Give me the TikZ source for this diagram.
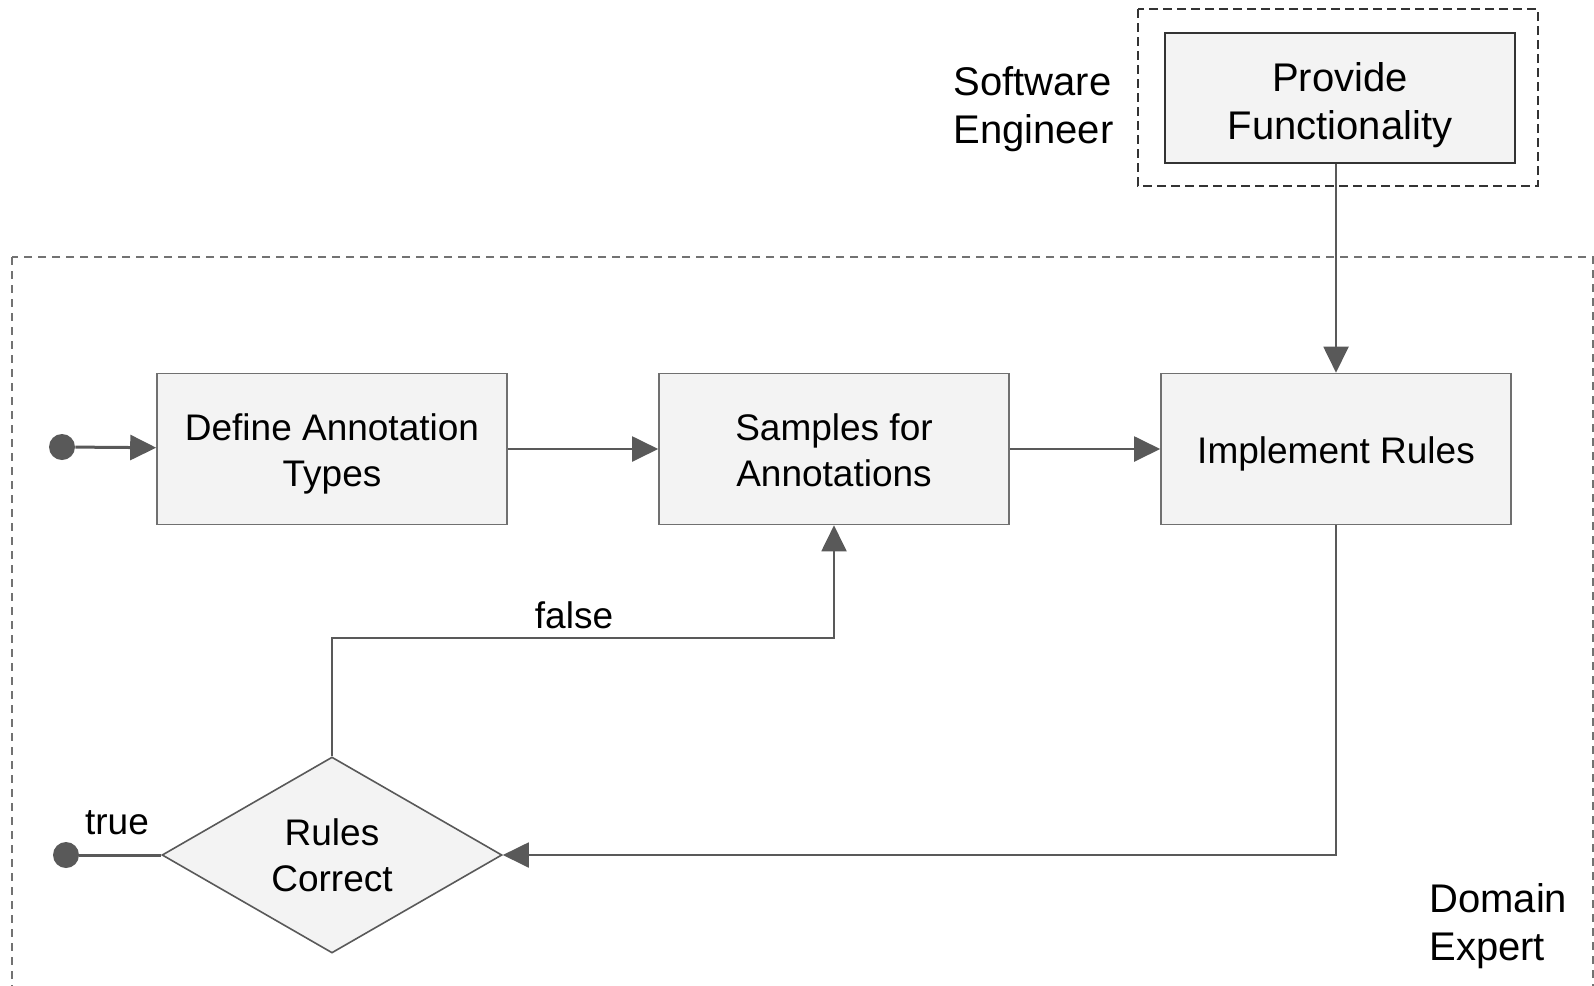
\documentclass[tikz,border=0pt]{standalone}
\usepackage{fontspec}
\setmainfont{Liberation Sans}
\usepackage{xcolor}
\usetikzlibrary{shapes.geometric, arrows.meta, positioning}

\definecolor{linegray}{HTML}{595959}
\definecolor{boxfill}{HTML}{F3F3F3}
\definecolor{boxedge}{HTML}{707070}

\begin{document}
\begin{tikzpicture}[
    x=0.5pt, y=-0.5pt,
    node distance=75.2pt,
    box/.style={rectangle, draw=boxedge, line width=0.8pt, fill=boxfill, minimum width=175pt, minimum height=75.5pt, inner sep=0pt, align=center, font=\fontsize{18.5}{23}\selectfont, text height=45.6pt, text depth=8pt},
    oneline/.style={text height=22pt, text depth=8pt},
    decision/.style={diamond, draw=linegray, line width=0.8pt, fill=boxfill, minimum width=170pt, minimum height=98pt, aspect=1.7, inner sep=0pt, align=center, font=\fontsize{18.5}{23}\selectfont},
    flow/.style={draw=linegray, line width=1pt, -{Triangle[length=13pt,width=12.5pt]}},
    dot/.style={circle, fill=linegray, inner sep=0pt, minimum size=13pt},
    role/.style={align=left, anchor=west, inner sep=0pt, font=\fontsize{20}{24}\selectfont},
    tag/.style={inner sep=0pt, font=\fontsize{18.5}{23}\selectfont}
]
\useasboundingbox (0,0) rectangle (1594,985);

% swimlanes
\draw[linegray!85, line width=0.8pt, dash pattern=on 4pt off 3pt] (12,257) rectangle (1593,1010);
\draw[black!80, line width=0.9pt, dash pattern=on 4.5pt off 2.5pt] (1138,9) rectangle (1538,186);

\node[role] (engineer) at (953,109) {Software\\Engineer};
\node[role] (expert) at (1429,926) {Domain\\Expert};

% activities
\node[box, draw=black!80, line width=1pt, minimum height=65pt, font=\fontsize{20}{24}\selectfont, text height=49pt, text depth=8pt] (provide) at (1340,98) {Provide\\Functionality};

\node[box] (define) at (332,449) {Define Annotation\\Types};
\node[box, right=of define] (samples) {Samples for\\Annotations};
\node[box, oneline, right=of samples] (implement) {Implement Rules};

\node[decision] (check) at (332,855) {Rules\\Correct};

\node[dot] (start) at (62,447) {};
\node[dot] (finish) at (66,855) {};

% flow
\draw[flow, line width=1.5pt] (start) -- (define);
\draw[flow] (define) -- (samples);
\draw[flow] (samples) -- (implement);
\draw[flow] (implement.north |- provide.south) -- (implement.north);
\draw[flow] (implement.south) |- (check.east);
\draw[flow] (check.north) -- ++(0,-118) -| (samples.south);
\draw[linegray, line width=1.5pt] (finish) -- (check.west);

\node[tag] (falselbl) at (574,615) {false};
\node[tag] (truelbl) at (117,823) {true};

\end{tikzpicture}
\end{document}
